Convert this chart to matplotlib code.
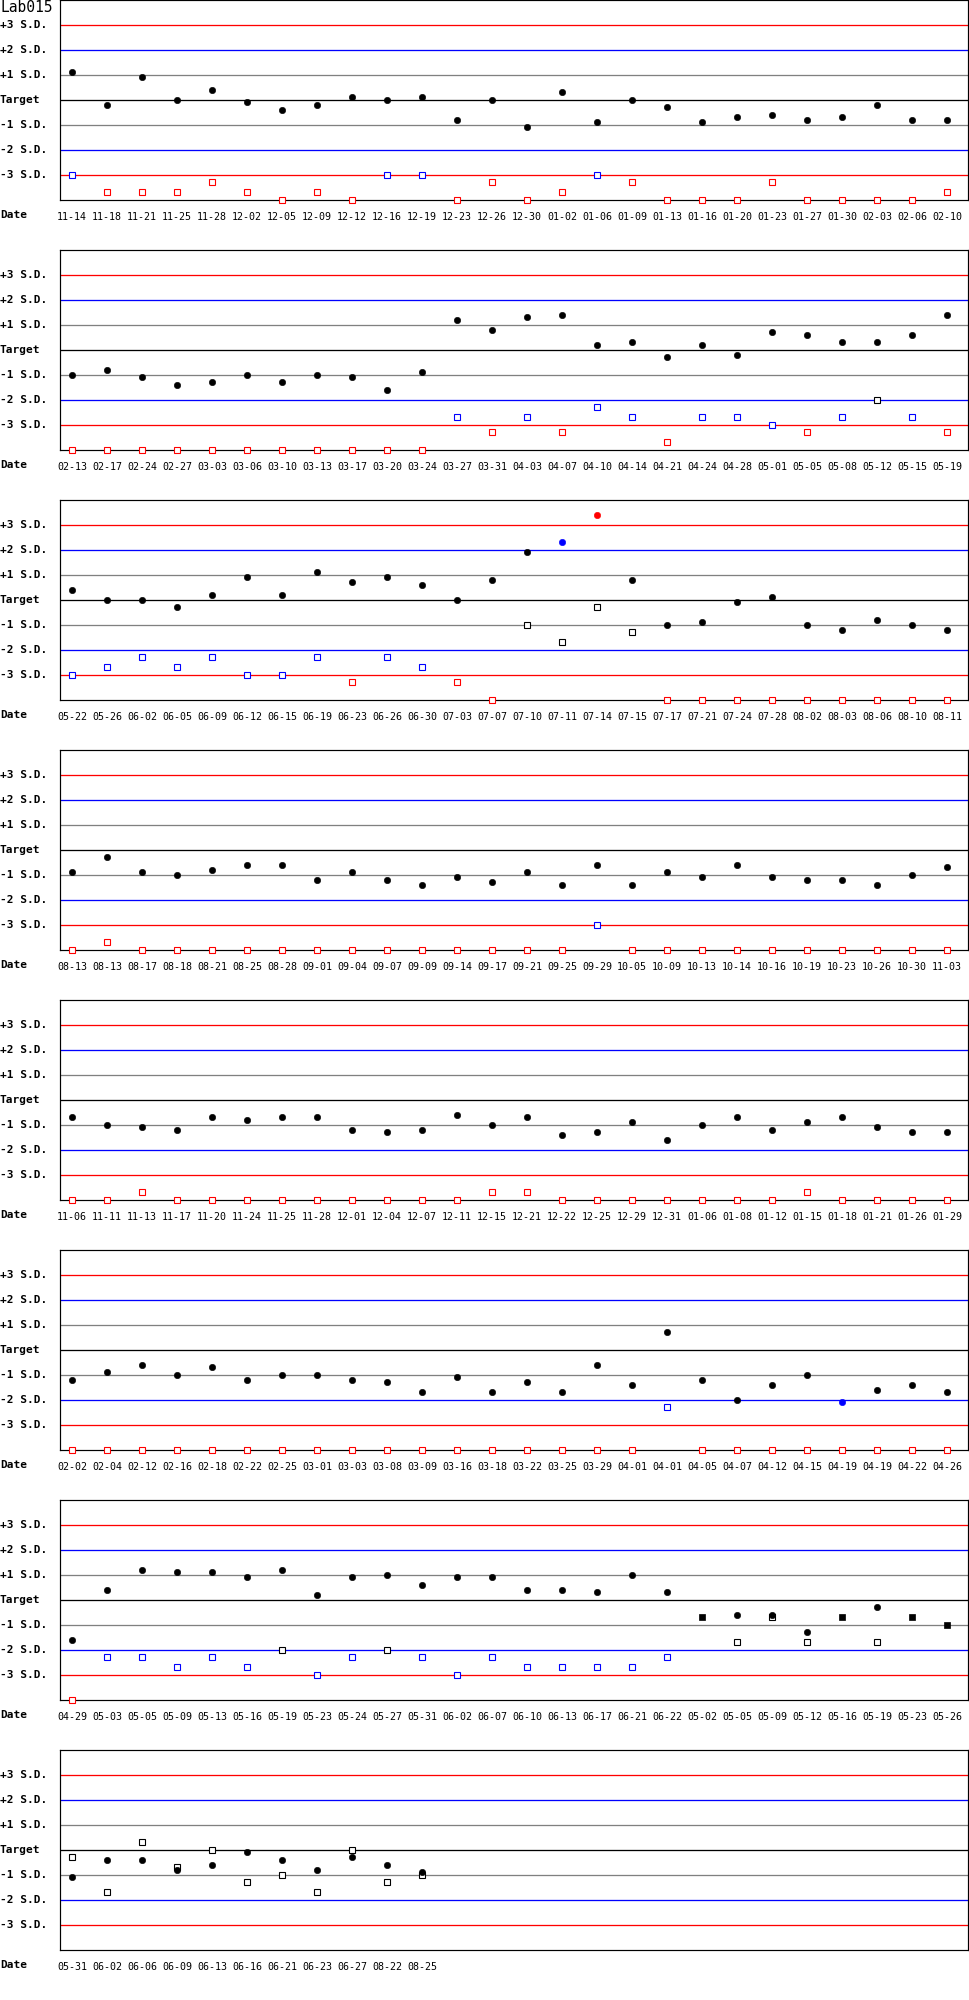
import matplotlib
matplotlib.use("Agg")
import matplotlib.pyplot as plt
from matplotlib.transforms import blended_transform_factory

# ---------------- data (values in S.D. units) ----------------
title = "Lab015"
sd_labels = ["+3 S.D.", "+2 S.D.", "+1 S.D.", "Target", "-1 S.D.", "-2 S.D.", "-3 S.D."]
sd_levels = [3, 2, 1, 0, -1, -2, -3]

dates1 = ["11-14", "11-18", "11-21", "11-25", "11-28", "12-02", "12-05", "12-09", "12-12", "12-16",
          "12-19", "12-23", "12-26", "12-30", "01-02", "01-06", "01-09", "01-13", "01-16", "01-20",
          "01-23", "01-27", "01-30", "02-03", "02-06", "02-10"]
main1 = [1.12, -0.2, 0.92, 0, 0.4, -0.08, -0.4, -0.2, 0.12, 0, 0.12, -0.8, 0, -1.08, 0.32, -0.88,
         0, -0.28, -0.88, -0.68, -0.6, -0.8, -0.68, -0.2, -0.8, -0.8]
mstat1 = ["n"] * 26
sec1 = [-3.0, -3.68, -3.68, -3.68, -3.28, -3.68, -4, -3.68, -4, -3.0, -3.0, -4, -3.28, -4, -3.68,
        -3.0, -3.28, -4, -4, -4, -3.28, -4, -4, -4, -4, -3.68]
sstat1 = ["b", "r", "r", "r", "r", "r", "r", "r", "r", "b", "b", "r", "r", "r", "r",
          "b", "r", "r", "r", "r", "r", "r", "r", "r", "r", "r"]

dates2 = ["02-13", "02-17", "02-24", "02-27", "03-03", "03-06", "03-10", "03-13", "03-17", "03-20",
          "03-24", "03-27", "03-31", "04-03", "04-07", "04-10", "04-14", "04-21", "04-24", "04-28",
          "05-01", "05-05", "05-08", "05-12", "05-15", "05-19"]
main2 = [-1.0, -0.8, -1.08, -1.4, -1.28, -1.0, -1.28, -1.0, -1.08, -1.6, -0.88, 1.2, 0.8, 1.32, 1.4,
         0.2, 0.32, -0.28, 0.2, -0.2, 0.72, 0.6, 0.32, 0.32, 0.6, 1.4]
mstat2 = ["n"] * 26
sec2 = [-4] * 11 + [-2.68, -3.28, -2.68, -3.28, -2.28, -2.68, -3.68, -2.68, -2.68, -3.0, -3.28,
                    -2.68, -2.0, -2.68, -3.28]
sstat2 = ["r"] * 11 + ["b", "r", "b", "r", "b", "b", "r", "b", "b", "b", "r", "b", "k", "b", "r"]

dates3 = ["05-22", "05-26", "06-02", "06-05", "06-09", "06-12", "06-15", "06-19", "06-23", "06-26",
          "06-30", "07-03", "07-07", "07-10", "07-11", "07-14", "07-15", "07-17", "07-21", "07-24",
          "07-28", "08-02", "08-03", "08-06", "08-10", "08-11"]
main3 = [0.4, 0, 0, -0.28, 0.2, 0.92, 0.2, 1.12, 0.72, 0.92, 0.6, 0, 0.8, 1.92, 2.32, 3.4, 0.8,
         -1.0, -0.88, -0.08, 0.12, -1.0, -1.2, -0.8, -1.0, -1.2]
mstat3 = ["n"] * 14 + ["b", "r"] + ["n"] * 10
sec3 = [-3.0, -2.68, -2.28, -2.68, -2.28, -3.0, -3.0, -2.28, -3.28, -2.28, -2.68, -3.28, -4,
        -1.0, -1.68, -0.28, -1.28] + [-4] * 9
sstat3 = ["b", "b", "b", "b", "b", "b", "b", "b", "r", "b", "b", "r", "r",
          "k", "k", "k", "k"] + ["r"] * 9

dates4 = ["08-13", "08-13", "08-17", "08-18", "08-21", "08-25", "08-28", "09-01", "09-04", "09-07",
          "09-09", "09-14", "09-17", "09-21", "09-25", "09-29", "10-05", "10-09", "10-13", "10-14",
          "10-16", "10-19", "10-23", "10-26", "10-30", "11-03"]
main4 = [-0.88, -0.28, -0.88, -1.0, -0.8, -0.6, -0.6, -1.2, -0.88, -1.2, -1.4, -1.08, -1.28, -0.88,
         -1.4, -0.6, -1.4, -0.88, -1.08, -0.6, -1.08, -1.2, -1.2, -1.4, -1.0, -0.68]
mstat4 = ["n"] * 26
sec4 = [-4, -3.68] + [-4] * 13 + [-3.0] + [-4] * 10
sstat4 = ["r"] * 15 + ["b"] + ["r"] * 10

dates5 = ["11-06", "11-11", "11-13", "11-17", "11-20", "11-24", "11-25", "11-28", "12-01", "12-04",
          "12-07", "12-11", "12-15", "12-21", "12-22", "12-25", "12-29", "12-31", "01-06", "01-08",
          "01-12", "01-15", "01-18", "01-21", "01-26", "01-29"]
main5 = [-0.68, -1.0, -1.08, -1.2, -0.68, -0.8, -0.68, -0.68, -1.2, -1.28, -1.2, -0.6, -1.0, -0.68,
         -1.4, -1.28, -0.88, -1.6, -1.0, -0.68, -1.2, -0.88, -0.68, -1.08, -1.28, -1.28]
mstat5 = ["n"] * 26
sec5 = [-4, -4, -3.68, -4, -4, -4, -4, -4, -4, -4, -4, -4, -3.68, -3.68, -4, -4, -4, -4, -4, -4,
        -4, -3.68, -4, -4, -4, -4]
sstat5 = ["r"] * 26

dates6 = ["02-02", "02-04", "02-12", "02-16", "02-18", "02-22", "02-25", "03-01", "03-03", "03-08",
          "03-09", "03-16", "03-18", "03-22", "03-25", "03-29", "04-01", "04-01", "04-05", "04-07",
          "04-12", "04-15", "04-19", "04-19", "04-22", "04-26"]
main6 = [-1.2, -0.88, -0.6, -1.0, -0.68, -1.2, -1.0, -1.0, -1.2, -1.28, -1.68, -1.08, -1.68, -1.28,
         -1.68, -0.6, -1.4, 0.72, -1.2, -2.0, -1.4, -1.0, -2.08, -1.6, -1.4, -1.68]
mstat6 = ["n"] * 22 + ["b"] + ["n"] * 3
sec6 = [-4] * 17 + [-2.28] + [-4] * 8
sstat6 = ["r"] * 17 + ["b"] + ["r"] * 8

dates7 = ["04-29", "05-03", "05-05", "05-09", "05-13", "05-16", "05-19", "05-23", "05-24", "05-27",
          "05-31", "06-02", "06-07", "06-10", "06-13", "06-17", "06-21", "06-22", "05-02", "05-05",
          "05-09", "05-12", "05-16", "05-19", "05-23", "05-26"]
main7 = [-1.6, 0.4, 1.2, 1.12, 1.12, 0.92, 1.2, 0.2, 0.92, 1.0, 0.6, 0.92, 0.92, 0.4, 0.4, 0.32,
         1.0, 0.32, -0.68, -0.6, -0.6, -1.28, -0.68, -0.28, -0.68, -1.0]
mstat7 = ["n"] * 18 + ["f", "n", "n", "n", "f", "n", "f", "f"]
sec7 = [-4, -2.28, -2.28, -2.68, -2.28, -2.68, -2.0, -3.0, -2.28, -2.0, -2.28, -3.0, -2.28, -2.68,
        -2.68, -2.68, -2.68, -2.28, None, -1.68, -0.68, -1.68, None, -1.68, None, None]
sstat7 = ["r", "b", "b", "b", "b", "b", "k", "b", "b", "k", "b", "b", "b", "b", "b", "b", "b", "b",
          None, "k", "k", "k", None, "k", None, None]

dates8 = ["05-31", "06-02", "06-06", "06-09", "06-13", "06-16", "06-21", "06-23", "06-27", "08-22",
          "08-25"]
main8 = [-1.08, -0.4, -0.4, -0.8, -0.6, -0.08, -0.4, -0.8, -0.28, -0.6, -0.88]
mstat8 = ["n"] * 11
sec8 = [-0.28, -1.68, 0.32, -0.68, 0, -1.28, -1.0, -1.68, 0, -1.28, -1.0]
sstat8 = ["k"] * 11

panels = [
    (dates1, main1, mstat1, sec1, sstat1),
    (dates2, main2, mstat2, sec2, sstat2),
    (dates3, main3, mstat3, sec3, sstat3),
    (dates4, main4, mstat4, sec4, sstat4),
    (dates5, main5, mstat5, sec5, sstat5),
    (dates6, main6, mstat6, sec6, sstat6),
    (dates7, main7, mstat7, sec7, sstat7),
    (dates8, main8, mstat8, sec8, sstat8),
]

# ---------------- styling ----------------
W, H = 970, 2000
DPI = 100
fig = plt.figure(figsize=(W / DPI, H / DPI), dpi=DPI)
fig.patch.set_facecolor("white")

RED = "#ff0000"
BLUE = "#0000ff"
GRAY = "#808080"
line_colors = {3: RED, 2: BLUE, 1: GRAY, 0: "black", -1: GRAY, -2: BLUE, -3: RED}
stat_color = {"n": "black", "b": BLUE, "r": RED, "k": "black", "f": "black"}
PX = 72.0 / DPI
mono = "DejaVu Sans Mono"

left_px, right_px = 60, 968
pitch, box_h = 250, 200
n_slots = 26

for k, (dates, main, mstat, sec, sstat) in enumerate(panels):
    top = pitch * k
    ax = fig.add_axes([left_px / W, (H - top - box_h) / H, (right_px - left_px) / W, box_h / H])
    ax.set_xlim(-12 / 35, (right_px - left_px - 12) / 35)
    ax.set_ylim(-4, 4)
    for s in ax.spines.values():
        s.set_linewidth(1.2 * PX)
        s.set_color("black")
    for lv in sd_levels:
        ax.axhline(lv, color=line_colors[lv], lw=1.3 * PX, zorder=1)
    ax.set_yticks([])
    xs = list(range(len(dates)))
    ax.set_xticks(xs)
    ax.set_xticklabels(dates, fontsize=7.2, family=mono)
    ax.tick_params(axis="x", length=0, pad=8.5)

    # secondary (hollow squares)
    for x, v, st in zip(xs, sec, sstat):
        if v is None:
            continue
        ax.plot([x], [v], marker="s", ms=4.6, mfc="white", mec=stat_color[st],
                mew=1.1 * PX, ls="none", zorder=3, clip_on=False)
    # main series
    for x, v, st in zip(xs, main, mstat):
        if st == "f":
            ax.plot([x], [v], marker="s", ms=5.0, mfc="black", mec="black", mew=0.5,
                    ls="none", zorder=4, clip_on=False)
        else:
            ax.plot([x], [v], marker="o", ms=4.6, mfc=stat_color[st], mec=stat_color[st],
                    mew=0.4, ls="none", zorder=4, clip_on=False)

    trans = blended_transform_factory(ax.transAxes, ax.transData)
    for lv, lab in zip(sd_levels, sd_labels):
        ax.text(-left_px / (right_px - left_px), lv, lab, transform=trans, ha="left",
                va="center", fontsize=8, family=mono, fontweight="bold")
    ax.text(-left_px / (right_px - left_px), -15 / box_h, "Date", transform=ax.transAxes,
            ha="left", va="center", fontsize=8, family=mono, fontweight="bold")

fig.text(0, 1 - 8 / H, title, ha="left", va="center", fontsize=10.5, family=mono)

fig.savefig("out.png", dpi=DPI, facecolor="white")
